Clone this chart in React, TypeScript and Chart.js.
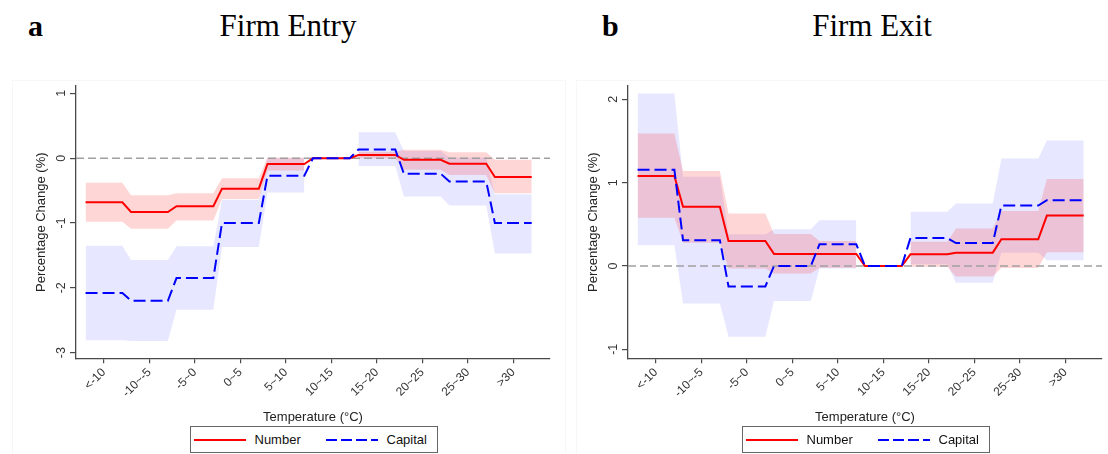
import React, { useEffect, useRef } from "react";
import { Chart, registerables } from "chart.js";

Chart.register(...registerables);

// ---------- data ----------
const categories = ["<-10", "-10~-5", "-5~0", "0~5", "5~10", "10~15", "15~20", "20~25", "25~30", ">30"];

// Panel a: Firm Entry
const entryNumber = [-0.68, -0.83, -0.74, -0.47, -0.09, 0, 0.05, -0.025, -0.085, -0.29];
const entryNumberLow = [-0.98, -1.09, -0.96, -0.63, -0.19, null, 0.0, -0.18, -0.26, -0.54];
const entryNumberHigh = [-0.38, -0.57, -0.54, -0.31, 0.01, null, 0.1, 0.13, 0.09, -0.025];
const entryCapital = [-2.08, -2.2, -1.85, -1.0, -0.27, 0, 0.135, -0.24, -0.36, -1.0];
const entryCapitalLow = [-2.81, -2.82, -2.34, -1.37, -0.53, null, -0.12, -0.59, -0.73, -1.47];
const entryCapitalHigh = [-1.35, -1.57, -1.36, -0.64, 0.0, null, 0.4, 0.11, 0.01, -0.56];
const entryYTicks = [-3, -2, -1, 0, 1];

// Panel b: Firm Exit
const exitNumber = [1.08, 0.71, 0.3, 0.145, 0.145, 0, 0.14, 0.16, 0.32, 0.605];
const exitNumberLow = [0.58, 0.28, -0.03, -0.09, -0.02, null, -0.01, -0.125, -0.025, 0.165];
const exitNumberHigh = [1.59, 1.14, 0.63, 0.385, 0.3, null, 0.29, 0.45, 0.66, 1.045];
const exitCapital = [1.155, 0.31, -0.245, 0.0, 0.26, 0, 0.335, 0.275, 0.725, 0.79];
const exitCapitalLow = [0.25, -0.45, -0.85, -0.42, -0.03, null, 0.02, -0.2, 0.16, 0.07];
const exitCapitalHigh = [2.07, 1.07, 0.38, 0.44, 0.55, null, 0.65, 0.75, 1.29, 1.505];
const exitYTicks = [-1, 0, 1, 2];

// ---------- styling ----------
const FONT = '"Liberation Sans", Arial, Helvetica, sans-serif';
const SERIF = '"Liberation Serif", "Times New Roman", serif';
const AXIS = "#4a4a4a";
const HALF = 0.405;
const X_MIN = -0.615;
const X_MAX = 9.807;

type Pt = { x: number; y: number | null };

function stepPoints(values: number[]): Pt[] {
  const pts: Pt[] = [];
  values.forEach((v, i) => {
    pts.push({ x: i - HALF, y: v });
    pts.push({ x: i + HALF, y: v });
  });
  return pts;
}

function bandPoints(values: (number | null)[]): Pt[] {
  const pts: Pt[] = [];
  values.forEach((v, i) => {
    if (v === null) {
      pts.push({ x: i, y: null });
    } else {
      pts.push({ x: i - HALF, y: v });
      pts.push({ x: i + HALF, y: v });
    }
  });
  return pts;
}

const yLabelPlugin = {
  id: "yRotatedLabels",
  afterDraw(chart: any) {
    const s = chart.scales.y;
    const ctx = chart.ctx;
    ctx.save();
    ctx.fillStyle = "#333";
    ctx.font = `12.5px ${FONT}`;
    ctx.textAlign = "center";
    ctx.textBaseline = "middle";
    s.ticks.forEach((t: any) => {
      const y = s.getPixelForValue(t.value);
      ctx.save();
      ctx.translate(s.right - 14, y);
      ctx.rotate(-Math.PI / 2);
      ctx.fillText(String(t.value), 0, 0);
      ctx.restore();
    });
    ctx.restore();
  },
};

type PanelProps = {
  left: number;
  yMin: number;
  yMax: number;
  yTicks: number[];
  number: number[];
  numberLow: (number | null)[];
  numberHigh: (number | null)[];
  capital: number[];
  capitalLow: (number | null)[];
  capitalHigh: (number | null)[];
};

function Panel(p: PanelProps) {
  const ref = useRef<HTMLCanvasElement>(null);
  useEffect(() => {
    if (!ref.current) return;
    const band = (data: Pt[], fill: any, color: string, order: number) => ({
      data,
      borderWidth: 0,
      borderColor: "transparent",
      pointRadius: 0,
      fill,
      backgroundColor: color,
      spanGaps: false,
      order,
    });
    const chart = new Chart(ref.current, {
      type: "line",
      data: {
        datasets: [
          {
            label: "Capital",
            data: stepPoints(p.capital),
            borderColor: "#0000ff",
            borderWidth: 2,
            borderDash: [12, 5],
            pointRadius: 0,
            fill: false,
            order: 0,
          },
          {
            label: "Number",
            data: stepPoints(p.number),
            borderColor: "#ff0000",
            borderWidth: 2,
            pointRadius: 0,
            fill: false,
            order: 1,
          },
          {
            label: "zero",
            data: [
              { x: X_MIN, y: 0 },
              { x: X_MAX, y: 0 },
            ],
            borderColor: "#a0a0a0",
            borderWidth: 1.5,
            borderDash: [8, 4],
            pointRadius: 0,
            fill: false,
            order: 2,
          },
          { label: "Number high", ...band(bandPoints(p.numberHigh), "+1", "rgba(255,0,0,0.16)", 3) },
          { label: "Number low", ...band(bandPoints(p.numberLow), false, "transparent", 3) },
          { label: "Capital high", ...band(bandPoints(p.capitalHigh), "+1", "rgba(0,0,255,0.095)", 4) },
          { label: "Capital low", ...band(bandPoints(p.capitalLow), false, "transparent", 4) },
        ] as any,
      },
      options: {
        responsive: false,
        animation: false,
        layout: { padding: { top: 6, right: 2, bottom: 29.2, left: 0 } },
        plugins: {
          legend: { display: false },
          tooltip: { enabled: false },
        },
        scales: {
          x: {
            type: "linear",
            min: X_MIN,
            max: X_MAX,
            afterBuildTicks: (s: any) => {
              s.ticks = categories.map((_, i) => ({ value: i }));
            },
            afterFit: (s: any) => {
              s.height = 66.5;
            },
            ticks: {
              autoSkip: false,
              minRotation: 45,
              maxRotation: 45,
              padding: 2,
              color: "#333",
              font: { family: FONT, size: 12 },
              callback: (v: any) => categories[Math.round(Number(v))] ?? "",
            },
            grid: {
              display: true,
              drawOnChartArea: false,
              drawTicks: true,
              tickLength: 5,
              color: AXIS,
              lineWidth: 1.2,
            },
            border: { display: true, color: AXIS, width: 1.3 },
            title: {
              display: true,
              text: "Temperature (°C)",
              color: "#222",
              font: { family: FONT, size: 13 },
              padding: { top: 0, bottom: 0 },
            },
          },
          y: {
            type: "linear",
            min: p.yMin,
            max: p.yMax,
            afterBuildTicks: (s: any) => {
              s.ticks = p.yTicks.map((v) => ({ value: v }));
            },
            afterFit: (s: any) => {
              s.width = 76;
            },
            ticks: { display: false },
            grid: {
              display: true,
              drawOnChartArea: false,
              drawTicks: true,
              tickLength: 6,
              color: AXIS,
              lineWidth: 1.2,
            },
            border: { display: true, color: AXIS, width: 1.3 },
            title: {
              display: true,
              text: "Percentage Change (%)",
              color: "#222",
              font: { family: FONT, size: 13 },
              padding: { top: 33.5, bottom: 0 },
            },
          },
        },
      } as any,
      plugins: [yLabelPlugin],
    });
    return () => chart.destroy();
  }, []);
  return (
    <canvas
      ref={ref}
      width={552}
      height={374}
      style={{ position: "absolute", left: p.left, top: 80, width: 552, height: 374 }}
    />
  );
}

function Legend({ left }: { left: number }) {
  const text = {
    position: "absolute" as const,
    top: 0,
    height: 25,
    lineHeight: "25px",
    fontFamily: FONT,
    fontSize: 13,
    color: "#111",
    whiteSpace: "nowrap" as const,
  };
  return (
    <div
      style={{
        position: "absolute",
        left,
        top: 426,
        width: 248,
        height: 27,
        border: "1px solid #666",
        boxSizing: "border-box",
        background: "#fff",
      }}
    >
      <svg width={248} height={27} style={{ position: "absolute", left: -1, top: -1 }}>
        <line x1={4} y1={14} x2={56} y2={14} stroke="#ff0000" strokeWidth={2} />
        <line x1={136} y1={14} x2={188} y2={14} stroke="#0000ff" strokeWidth={2} strokeDasharray="11 4" />
      </svg>
      <span style={{ ...text, left: 63.5 }}>Number</span>
      <span style={{ ...text, left: 195.5 }}>Capital</span>
    </div>
  );
}

export default function App() {
  const letter = {
    position: "absolute" as const,
    fontFamily: SERIF,
    fontWeight: 700,
    fontSize: 30,
    lineHeight: "30px",
    top: 10.6,
    color: "#000",
  };
  const title = {
    position: "absolute" as const,
    fontFamily: SERIF,
    fontSize: 31,
    lineHeight: "31px",
    top: 10,
    width: 240,
    textAlign: "center" as const,
    color: "#000",
    whiteSpace: "nowrap" as const,
  };
  return (
    <div
      style={{
        position: "absolute",
        left: 0,
        top: 0,
        width: 1108,
        height: 454,
        background: "#fff",
        overflow: "hidden",
      }}
    >
      <div style={{ position: "absolute", left: 12, top: 80, width: 552, height: 400, border: "1px solid #f7f7f7" }} />
      <div style={{ position: "absolute", left: 576, top: 80, width: 552, height: 400, border: "1px solid #f7f7f7" }} />
      <div style={{ ...letter, left: 28 }}>a</div>
      <div style={{ ...title, left: 288 - 120 }}>Firm Entry</div>
      <div style={{ ...letter, left: 602 }}>b</div>
      <div style={{ ...title, left: 872 - 120 }}>Firm Exit</div>
      <Panel
        left={0}
        yMin={-3.088}
        yMax={1.114}
        yTicks={entryYTicks}
        number={entryNumber}
        numberLow={entryNumberLow}
        numberHigh={entryNumberHigh}
        capital={entryCapital}
        capitalLow={entryCapitalLow}
        capitalHigh={entryCapitalHigh}
      />
      <Panel
        left={552}
        yMin={-1.108}
        yMax={2.16}
        yTicks={exitYTicks}
        number={exitNumber}
        numberLow={exitNumberLow}
        numberHigh={exitNumberHigh}
        capital={exitCapital}
        capitalLow={exitCapitalLow}
        capitalHigh={exitCapitalHigh}
      />
      <Legend left={190} />
      <Legend left={742} />
    </div>
  );
}
